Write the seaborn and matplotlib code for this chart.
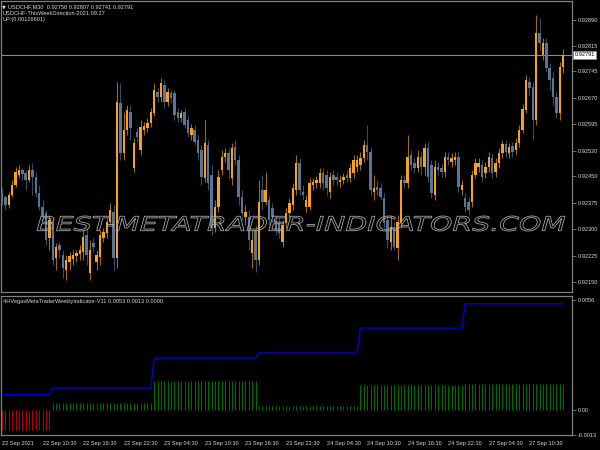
import numpy as np
import pandas as pd
import seaborn as sns
import matplotlib
matplotlib.use("Agg")
import matplotlib.pyplot as plt
from matplotlib.textpath import TextPath
from matplotlib.patches import PathPatch
from matplotlib.font_manager import FontProperties, fontManager
from matplotlib.transforms import Affine2D, blended_transform_factory

# ---------------- data (USDCHF M30) ----------------
opens = [
    0.92402, 0.92390, 0.92368, 0.92396, 0.92424, 0.92453, 0.92467, 0.92458, 0.92438, 0.92467,
    0.92447, 0.92402, 0.92362, 0.92346, 0.92275, 0.92320, 0.92218, 0.92255, 0.92227, 0.92185,
    0.92207, 0.92216, 0.92224, 0.92230, 0.92235, 0.92283, 0.92176, 0.92261, 0.92207, 0.92221,
    0.92275, 0.92289, 0.92320, 0.92348, 0.92218, 0.92656, 0.92515, 0.92579, 0.92630, 0.92472,
    0.92574, 0.92523, 0.92579, 0.92585, 0.92599, 0.92627, 0.92687, 0.92672, 0.92706, 0.92658,
    0.92684, 0.92684, 0.92630, 0.92613, 0.92630, 0.92608, 0.92565, 0.92579, 0.92551, 0.92523,
    0.92444, 0.92537, 0.92453, 0.92303, 0.92362, 0.92467, 0.92503, 0.92515, 0.92444, 0.92532,
    0.92495, 0.92390, 0.92334, 0.92334, 0.92233, 0.92297, 0.92213, 0.92410, 0.92376, 0.92382,
    0.92359, 0.92326, 0.92317, 0.92264, 0.92317, 0.92346, 0.92368, 0.92410, 0.92486, 0.92404,
    0.92362, 0.92362, 0.92424, 0.92430, 0.92430, 0.92458, 0.92453, 0.92404, 0.92453, 0.92447,
    0.92432, 0.92438, 0.92453, 0.92444, 0.92458, 0.92475, 0.92481, 0.92500, 0.92537, 0.92518,
    0.92404, 0.92419, 0.92416, 0.92388, 0.92326, 0.92264, 0.92306, 0.92247, 0.92320, 0.92438,
    0.92430, 0.92509, 0.92486, 0.92472, 0.92503, 0.92475, 0.92529, 0.92481, 0.92396, 0.92475,
    0.92472, 0.92461, 0.92503, 0.92489, 0.92495, 0.92503, 0.92410, 0.92388, 0.92376, 0.92376,
    0.92453, 0.92475, 0.92481, 0.92458, 0.92475, 0.92500, 0.92461, 0.92486, 0.92515, 0.92540,
    0.92515, 0.92534, 0.92523, 0.92543, 0.92579, 0.92636, 0.92715, 0.92701, 0.92608, 0.92853,
    0.92791, 0.92825, 0.92754, 0.92726, 0.92672, 0.92627, 0.92758,
]
highs = [
    0.92415, 0.92396, 0.92404, 0.92438, 0.92475, 0.92481, 0.92472, 0.92467, 0.92481, 0.92486,
    0.92461, 0.92424, 0.92382, 0.92354, 0.92340, 0.92331, 0.92261, 0.92264, 0.92241, 0.92227,
    0.92235, 0.92241, 0.92241, 0.92255, 0.92297, 0.92303, 0.92269, 0.92275, 0.92241, 0.92297,
    0.92303, 0.92331, 0.92374, 0.92368, 0.92715, 0.92712, 0.92630, 0.92650, 0.92650, 0.92557,
    0.92585, 0.92608, 0.92602, 0.92613, 0.92641, 0.92712, 0.92698, 0.92726, 0.92720, 0.92698,
    0.92692, 0.92692, 0.92641, 0.92636, 0.92641, 0.92619, 0.92596, 0.92594, 0.92565, 0.92537,
    0.92608, 0.92551, 0.92481, 0.92382, 0.92467, 0.92523, 0.92529, 0.92529, 0.92543, 0.92551,
    0.92509, 0.92410, 0.92368, 0.92354, 0.92297, 0.92311, 0.92438, 0.92453, 0.92461, 0.92396,
    0.92374, 0.92340, 0.92331, 0.92326, 0.92359, 0.92388, 0.92430, 0.92509, 0.92500, 0.92424,
    0.92396, 0.92444, 0.92444, 0.92450, 0.92472, 0.92472, 0.92467, 0.92461, 0.92467, 0.92461,
    0.92453, 0.92458, 0.92467, 0.92486, 0.92509, 0.92509, 0.92518, 0.92551, 0.92594, 0.92532,
    0.92453, 0.92438, 0.92430, 0.92402, 0.92340, 0.92340, 0.92320, 0.92340, 0.92453, 0.92453,
    0.92565, 0.92523, 0.92500, 0.92523, 0.92518, 0.92543, 0.92546, 0.92495, 0.92495, 0.92489,
    0.92486, 0.92518, 0.92518, 0.92515, 0.92518, 0.92518, 0.92438, 0.92402, 0.92390, 0.92467,
    0.92500, 0.92500, 0.92495, 0.92489, 0.92518, 0.92515, 0.92500, 0.92529, 0.92551, 0.92551,
    0.92543, 0.92546, 0.92557, 0.92594, 0.92653, 0.92734, 0.92729, 0.92715, 0.92904, 0.92895,
    0.92839, 0.92839, 0.92768, 0.92743, 0.92687, 0.92771, 0.92807,
]
lows = [
    0.92368, 0.92354, 0.92359, 0.92390, 0.92418, 0.92444, 0.92438, 0.92410, 0.92432, 0.92396,
    0.92390, 0.92354, 0.92326, 0.92255, 0.92241, 0.92199, 0.92185, 0.92218, 0.92162, 0.92156,
    0.92185, 0.92199, 0.92207, 0.92213, 0.92213, 0.92199, 0.92156, 0.92235, 0.92185, 0.92199,
    0.92264, 0.92275, 0.92311, 0.92185, 0.92190, 0.92495, 0.92495, 0.92565, 0.92551, 0.92461,
    0.92546, 0.92509, 0.92565, 0.92574, 0.92588, 0.92619, 0.92658, 0.92658, 0.92641, 0.92647,
    0.92656, 0.92608, 0.92602, 0.92602, 0.92585, 0.92560, 0.92551, 0.92537, 0.92495, 0.92424,
    0.92432, 0.92410, 0.92283, 0.92292, 0.92348, 0.92453, 0.92489, 0.92444, 0.92424, 0.92481,
    0.92368, 0.92326, 0.92311, 0.92241, 0.92190, 0.92179, 0.92199, 0.92354, 0.92368, 0.92311,
    0.92320, 0.92283, 0.92275, 0.92249, 0.92303, 0.92331, 0.92354, 0.92396, 0.92396, 0.92382,
    0.92348, 0.92354, 0.92410, 0.92416, 0.92416, 0.92410, 0.92396, 0.92388, 0.92424, 0.92424,
    0.92418, 0.92427, 0.92432, 0.92432, 0.92444, 0.92461, 0.92467, 0.92489, 0.92495, 0.92396,
    0.92382, 0.92396, 0.92382, 0.92303, 0.92247, 0.92241, 0.92241, 0.92213, 0.92303, 0.92416,
    0.92416, 0.92467, 0.92458, 0.92461, 0.92453, 0.92453, 0.92432, 0.92388, 0.92382, 0.92453,
    0.92447, 0.92447, 0.92481, 0.92475, 0.92481, 0.92404, 0.92396, 0.92348, 0.92340, 0.92362,
    0.92444, 0.92461, 0.92432, 0.92444, 0.92461, 0.92444, 0.92447, 0.92472, 0.92500, 0.92503,
    0.92500, 0.92503, 0.92509, 0.92532, 0.92571, 0.92627, 0.92678, 0.92551, 0.92594, 0.92805,
    0.92777, 0.92743, 0.92692, 0.92650, 0.92613, 0.92608, 0.92741,
]
closes = [
    0.92376, 0.92368, 0.92396, 0.92424, 0.92461, 0.92467, 0.92456, 0.92438, 0.92467, 0.92447,
    0.92402, 0.92362, 0.92334, 0.92269, 0.92326, 0.92213, 0.92249, 0.92241, 0.92190, 0.92213,
    0.92224, 0.92227, 0.92233, 0.92241, 0.92278, 0.92227, 0.92241, 0.92249, 0.92227, 0.92283,
    0.92292, 0.92320, 0.92354, 0.92218, 0.92658, 0.92515, 0.92579, 0.92636, 0.92585, 0.92543,
    0.92560, 0.92588, 0.92591, 0.92599, 0.92630, 0.92692, 0.92672, 0.92712, 0.92658, 0.92687,
    0.92670, 0.92622, 0.92613, 0.92627, 0.92594, 0.92571, 0.92585, 0.92546, 0.92515, 0.92447,
    0.92543, 0.92430, 0.92303, 0.92362, 0.92447, 0.92503, 0.92515, 0.92467, 0.92529, 0.92495,
    0.92390, 0.92346, 0.92348, 0.92269, 0.92269, 0.92213, 0.92376, 0.92376, 0.92410, 0.92326,
    0.92334, 0.92297, 0.92289, 0.92311, 0.92346, 0.92374, 0.92416, 0.92486, 0.92410, 0.92396,
    0.92382, 0.92430, 0.92432, 0.92438, 0.92458, 0.92430, 0.92416, 0.92447, 0.92438, 0.92438,
    0.92438, 0.92447, 0.92444, 0.92472, 0.92495, 0.92495, 0.92500, 0.92537, 0.92518, 0.92410,
    0.92416, 0.92410, 0.92390, 0.92317, 0.92269, 0.92306, 0.92249, 0.92320, 0.92438, 0.92430,
    0.92503, 0.92481, 0.92472, 0.92503, 0.92475, 0.92529, 0.92447, 0.92402, 0.92475, 0.92467,
    0.92461, 0.92503, 0.92495, 0.92500, 0.92503, 0.92419, 0.92424, 0.92362, 0.92354, 0.92453,
    0.92486, 0.92486, 0.92447, 0.92475, 0.92503, 0.92458, 0.92486, 0.92515, 0.92540, 0.92518,
    0.92532, 0.92518, 0.92543, 0.92579, 0.92639, 0.92720, 0.92698, 0.92608, 0.92853, 0.92825,
    0.92825, 0.92754, 0.92720, 0.92672, 0.92627, 0.92757, 0.92791,
]
current_price = 0.92791

price_ticks = [0.92890, 0.92815, 0.92745, 0.92670, 0.92595, 0.92520,
               0.92450, 0.92375, 0.92300, 0.92225, 0.92150]

date_labels = ["22 Sep 2021", "22 Sep 10:30", "22 Sep 16:30", "22 Sep 22:30",
               "23 Sep 04:30", "23 Sep 10:30", "23 Sep 16:30", "23 Sep 22:30",
               "24 Sep 04:30", "24 Sep 10:30", "24 Sep 16:30", "24 Sep 22:30",
               "27 Sep 04:30", "27 Sep 10:30"]
bars_per_label = 12

# indicator: values held per weekly segment
seg_lengths = [15, 30, 31, 30, 31, 30]
blue_levels = [0.00076, 0.00110, 0.00263, 0.00289, 0.00416, 0.00540]
green_levels = [0.0, 0.00036, 0.00148, 0.00017, 0.00127, 0.00130]
red_levels = [-0.00105, 0.0, 0.0, 0.0, 0.0, 0.0]
ind_ticks = [0.0056, 0.0, -0.0013]
ind_tick_labels = ["0.0056", "0.00", "-0.0013"]

header1 = "USDCHF,M30  0.92758 0.92807 0.92741 0.92791"
header2 = "USDCHF-ThisWeekDirection-2021.09.27"
header3 = "UP:(0.00126601)"
ind_title = "4HVegasMetaTraderWeeklyIndicator-V11 0.0053 0.0013 0.0000"
watermark = "BEST-METATRADER-INDICATORS.COM"

# ---------------- style ----------------
sns.set_theme(style="dark", rc={"axes.facecolor": "black", "figure.facecolor": "black"})
installed = {f.name for f in fontManager.ttflist}
narrow = [f for f in ["Liberation Sans Narrow", "DejaVu Sans Condensed", "Liberation Sans"]
          if f in installed]
plt.rcParams["font.family"] = narrow + ["DejaVu Sans"]
is_narrow = bool(narrow) and narrow[0] != "Liberation Sans"

TXT = "#d8d8d8"
GRID = "#808080"
BULL = "#f5a21c"
BEAR = "#5a7593"
BULL_W = "#a06a14"
BEAR_W = "#3a4d64"
FS = 4.5 if is_narrow else 4.1

df = pd.DataFrame({"open": opens, "high": highs, "low": lows, "close": closes})
df["bar"] = np.arange(len(df))
n = len(df)

fig = plt.figure(figsize=(6, 4.5), dpi=100, facecolor="black")
ax = fig.add_axes([1 / 600, 158 / 450, 571 / 600, 291 / 450])
ax2 = fig.add_axes([1 / 600, 15 / 450, 571 / 600, 139 / 450])
for a in (ax, ax2):
    a.set_facecolor("black")
    a.grid(False)
    for s in a.spines.values():
        s.set_color(GRID)
        s.set_linewidth(0.9)
    a.set_xlim(-0.3, 168.6)

# ---------------- candles ----------------
bull = (df["close"] >= df["open"]).to_numpy()
wick_cols = np.where(bull, BULL_W, BEAR_W)
body_cols = np.where(bull, BULL, BEAR)
ax.axhline(current_price, color="#8a8a8a", lw=0.8, zorder=1)
ax.vlines(df["bar"], df["low"], df["high"], colors=wick_cols, lw=0.8, zorder=2)
h = (df["close"] - df["open"]).to_numpy()
h = np.where(np.abs(h) < 1.2e-5, 1.2e-5, h)
ax.bar(df["bar"], h, bottom=df["open"], width=0.72, color=body_cols, linewidth=0, zorder=3)
ax.set_ylim(0.92123, 0.92943)
ax.set_xticks([])
ax.yaxis.tick_right()
ax.set_yticks(price_ticks)
ax.set_yticklabels([f"{v:.5f}" for v in price_ticks])
ax.tick_params(axis="y", colors=GRID, labelcolor=TXT, labelsize=FS, length=3,
               width=0.6, pad=1.2, direction="out")
ax.text(1.004, current_price, f"{current_price:.5f}",
        transform=blended_transform_factory(ax.transAxes, ax.transData),
        ha="left", va="center", fontsize=FS, color="black", clip_on=False, zorder=10,
        bbox=dict(boxstyle="square,pad=0.25", fc="white", ec="#8a8a8a", lw=0.5))

# ---------------- indicator ----------------
blue = np.repeat(blue_levels, seg_lengths)
green = np.repeat(green_levels, seg_lengths)
red = np.repeat(red_levels, seg_lengths)
gm = green > 0
rm = red < 0
ax2.vlines(df["bar"][gm], 0, green[gm], colors="#007000", lw=0.7, zorder=2)
ax2.vlines(df["bar"][rm], 0, red[rm], colors="#b80000", lw=0.7, zorder=2)
sns.lineplot(x=df["bar"], y=blue, ax=ax2, color="#0000d0", linewidth=1.0, zorder=3)
ax2.set_xlabel("")
ax2.set_ylabel("")
ax2.set_ylim(-0.0013, 0.0058)
ax2.set_xlim(-0.3, 168.6)
ax2.yaxis.tick_right()
ax2.set_yticks(ind_ticks)
ax2.set_yticklabels(ind_tick_labels)
ax2.tick_params(axis="y", colors=GRID, labelcolor=TXT, labelsize=FS, length=3,
                width=0.6, pad=1.2, direction="out")
tick_pos = [i * bars_per_label for i in range(len(date_labels))]
ax2.set_xticks(tick_pos)
ax2.set_xticklabels(date_labels, ha="left")
ax2.tick_params(axis="x", colors=GRID, labelcolor=TXT, labelsize=FS, length=4,
                width=0.6, pad=0.5, direction="out")

# ---------------- texts ----------------
fig.text(2 / 600, 1 - 6.5 / 450, "\u25bc", fontsize=3.5, color=TXT, va="center",
         family=["DejaVu Sans"])
fig.text(8 / 600, 1 - 6.5 / 450, header1, fontsize=FS, color=TXT, va="center")
fig.text(3 / 600, 1 - 13.5 / 450, header2, fontsize=FS, color=TXT, va="center")
fig.text(3 / 600, 1 - 20 / 450, header3, fontsize=FS, color=TXT, va="center")
fig.text(3 / 600, 1 - 301 / 450, ind_title, fontsize=FS, color=TXT, va="center")

# watermark outline text
ov = fig.add_axes([0, 0, 1, 1], facecolor="none")
ov.set_xlim(0, 600)
ov.set_ylim(450, 0)
ov.axis("off")
tp = TextPath((0, 0), watermark, size=20,
              prop=FontProperties(family="DejaVu Sans", style="oblique"))
bb = tp.get_extents()
tr = Affine2D().translate(-bb.x0, -bb.y0).scale(528 / bb.width, -15 / bb.height).translate(37, 231)
ov.add_patch(PathPatch(tr.transform_path(tp), fc="none", ec="#a8a8a8", lw=0.6))

fig.savefig("out.png", dpi=100, facecolor="black")
